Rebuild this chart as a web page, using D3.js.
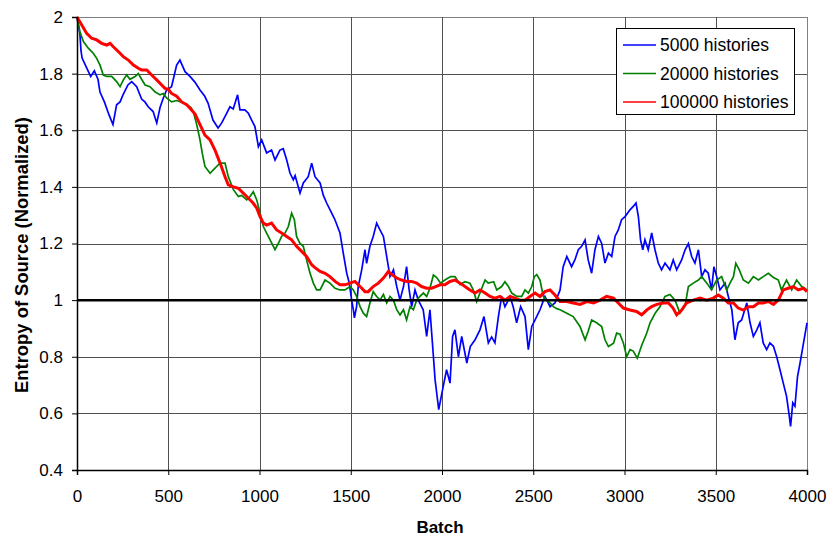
<!DOCTYPE html>
<html>
<head>
<meta charset="utf-8">
<script src="https://cdn.jsdelivr.net/npm/d3@7/dist/d3.min.js"></script>
<style>
  html, body { margin: 0; padding: 0; background: #fff; }
  svg { display: block; }
  text { font-family: "Liberation Sans", Arial, sans-serif; fill: #000; }
</style>
</head>
<body>
<svg id="chart" width="829" height="538"></svg>
<script>
// ---- data ----
const xTicks = [0, 500, 1000, 1500, 2000, 2500, 3000, 3500, 4000];
const yTicks = [0.4, 0.6, 0.8, 1.0, 1.2, 1.4, 1.6, 1.8, 2.0];
const seriesNames = ["5000 histories", "20000 histories", "100000 histories"];
const seriesColors = ["#0000ff", "#008000", "#ff0000"];
const referenceLevel = 1.0;

const batch5000 = [0,16,22,28,53,75,95,115,126,150,175,197,217,236,252,279,300,327,354,372,390,417,437,455,473,491,518,546,564,592,619,646,674,700,718,745,773,793,820,838,856,880,893,920,939,957,975,994,1012,1039,1066,1085,1112,1130,1149,1167,1185,1195,1222,1240,1267,1286,1304,1332,1350,1368,1405,1414,1441,1459,1478,1492,1505,1514,1520,1532,1541,1560,1578,1587,1605,1623,1642,1660,1679,1697,1715,1734,1752,1770,1789,1806,1820,1834,1852,1870,1886,1897,1916,1934,1953,1962,1971,1982,1990,2003,2025,2044,2058,2071,2090,2108,2136,2155,2181,2208,2230,2254,2272,2290,2309,2327,2345,2373,2390,2409,2431,2455,2473,2492,2510,2537,2564,2592,2619,2647,2664,2684,2710,2728,2747,2765,2784,2801,2820,2838,2857,2875,2893,2912,2930,2948,2966,2984,3003,3030,3048,3063,3076,3088,3100,3112,3130,3149,3167,3185,3203,3222,3249,3267,3286,3313,3332,3350,3368,3386,3405,3423,3441,3459,3477,3490,3505,3523,3551,3569,3588,3605,3623,3642,3670,3688,3706,3725,3742,3760,3779,3797,3816,3834,3852,3870,3888,3903,3910,3922,3934,3948,3962,3981,4000];
const value5000 = [2.0,1.94,1.88,1.855,1.82,1.79,1.81,1.78,1.735,1.70,1.655,1.62,1.69,1.70,1.725,1.76,1.772,1.754,1.71,1.70,1.683,1.666,1.626,1.68,1.714,1.742,1.754,1.83,1.848,1.807,1.79,1.77,1.742,1.72,1.696,1.636,1.608,1.626,1.66,1.683,1.675,1.725,1.672,1.672,1.66,1.636,1.613,1.542,1.566,1.52,1.53,1.495,1.53,1.535,1.495,1.449,1.425,1.44,1.378,1.414,1.436,1.484,1.436,1.414,1.37,1.343,1.295,1.283,1.237,1.166,1.095,1.06,1.0,0.966,0.937,0.977,1.048,1.107,1.178,1.13,1.19,1.225,1.272,1.248,1.225,1.154,1.083,1.107,1.048,1.0,1.048,1.118,1.036,0.977,1.036,1.0,0.98,0.966,0.872,0.966,0.80,0.719,0.672,0.613,0.64,0.683,0.754,0.707,0.872,0.895,0.80,0.872,0.778,0.836,0.86,0.895,0.942,0.849,0.87,0.849,0.942,1.013,0.977,1.013,0.977,0.92,0.977,0.942,0.825,0.907,0.93,0.966,1.013,0.977,0.99,1.036,1.118,1.154,1.118,1.142,1.178,1.19,1.213,1.142,1.095,1.178,1.225,1.2,1.131,1.166,1.154,1.225,1.248,1.284,1.295,1.319,1.331,1.343,1.295,1.213,1.178,1.213,1.178,1.237,1.178,1.131,1.107,1.131,1.107,1.142,1.107,1.142,1.178,1.2,1.154,1.131,1.178,1.083,1.107,1.095,1.036,1.118,1.083,1.036,1.06,1.013,0.966,0.86,0.92,0.93,0.99,0.92,0.872,0.895,0.92,0.849,0.825,0.849,0.837,0.80,0.754,0.707,0.66,0.59,0.554,0.637,0.625,0.73,0.778,0.849,0.92];

const batch20000 = [0,16,35,62,89,108,126,144,163,190,217,236,254,272,290,318,336,354,373,400,427,455,473,491,518,546,584,600,625,637,656,674,686,701,729,747,765,784,811,829,857,884,902,930,948,966,985,1003,1021,1039,1058,1085,1103,1121,1140,1158,1176,1191,1203,1222,1240,1258,1277,1295,1313,1332,1359,1386,1414,1441,1468,1496,1514,1532,1551,1569,1587,1605,1623,1642,1660,1679,1697,1715,1734,1752,1770,1789,1806,1825,1843,1861,1879,1898,1916,1934,1953,1971,1992,2016,2047,2071,2099,2126,2153,2171,2190,2208,2236,2253,2283,2300,2327,2345,2364,2382,2410,2437,2455,2473,2492,2506,2519,2537,2555,2575,2592,2610,2629,2647,2684,2719,2756,2784,2801,2820,2847,2875,2893,2912,2940,2957,2975,2994,3012,3030,3048,3070,3094,3122,3140,3168,3195,3222,3249,3277,3304,3332,3350,3377,3405,3423,3451,3477,3505,3532,3560,3578,3597,3610,3629,3651,3679,3706,3734,3760,3788,3816,3843,3860,3888,3916,3943,3971,4000];
const value20000 = [2.0,1.948,1.913,1.89,1.872,1.854,1.83,1.795,1.79,1.79,1.772,1.754,1.778,1.795,1.78,1.79,1.80,1.78,1.76,1.754,1.736,1.725,1.73,1.714,1.70,1.705,1.696,1.69,1.68,1.666,1.62,1.566,1.52,1.472,1.448,1.46,1.472,1.484,1.484,1.436,1.39,1.366,1.37,1.354,1.366,1.383,1.354,1.307,1.26,1.237,1.213,1.178,1.2,1.225,1.237,1.26,1.307,1.284,1.225,1.2,1.19,1.142,1.095,1.06,1.036,1.036,1.071,1.06,1.042,1.036,1.036,1.048,1.036,1.013,0.977,0.954,0.942,0.99,1.03,1.013,1.0,1.02,0.99,1.013,1.0,0.966,0.948,0.966,0.93,0.977,0.966,1.0,1.013,1.025,1.013,1.042,1.089,1.08,1.06,1.071,1.083,1.083,1.055,1.065,1.06,1.036,0.995,1.025,1.071,1.06,1.065,1.036,1.048,1.065,1.048,1.025,1.013,1.013,1.036,1.025,1.048,1.083,1.09,1.071,1.013,1.0,0.99,0.977,0.97,0.966,0.954,0.942,0.907,0.86,0.89,0.93,0.92,0.907,0.86,0.836,0.848,0.884,0.88,0.848,0.80,0.825,0.82,0.795,0.84,0.884,0.92,0.954,0.977,1.013,1.02,1.0,0.954,0.98,1.048,1.06,1.071,1.083,1.06,1.036,1.071,1.083,1.036,1.06,1.083,1.13,1.107,1.071,1.06,1.083,1.071,1.083,1.095,1.08,1.071,1.036,1.071,1.036,1.071,1.048,1.036];

const batch100000 = [0,26,53,80,108,135,163,181,199,226,254,281,309,336,354,382,409,437,464,482,500,518,546,574,601,619,647,674,701,729,756,784,811,829,857,884,911,939,966,985,1003,1021,1039,1066,1094,1121,1149,1176,1203,1231,1258,1286,1304,1332,1359,1386,1414,1441,1468,1496,1523,1551,1578,1596,1623,1651,1679,1706,1725,1752,1779,1806,1834,1861,1888,1916,1943,1966,1989,2016,2044,2071,2099,2126,2153,2181,2208,2236,2263,2290,2318,2345,2373,2400,2427,2455,2482,2510,2537,2564,2592,2619,2647,2684,2719,2756,2795,2831,2866,2902,2940,2966,2994,3030,3066,3094,3122,3149,3177,3213,3241,3266,3286,3313,3340,3377,3414,3451,3486,3514,3541,3569,3597,3623,3651,3679,3706,3734,3760,3788,3816,3843,3870,3897,3925,3952,3981,4000];
const value100000 = [2.0,1.972,1.942,1.925,1.919,1.907,1.901,1.907,1.895,1.878,1.86,1.848,1.83,1.819,1.813,1.813,1.795,1.778,1.76,1.748,1.745,1.73,1.72,1.70,1.69,1.678,1.657,1.62,1.583,1.566,1.53,1.484,1.436,1.407,1.40,1.395,1.378,1.36,1.342,1.325,1.295,1.272,1.265,1.272,1.248,1.237,1.225,1.213,1.19,1.172,1.154,1.125,1.115,1.101,1.095,1.083,1.066,1.054,1.054,1.06,1.066,1.048,1.03,1.03,1.048,1.06,1.078,1.101,1.09,1.078,1.071,1.066,1.066,1.06,1.048,1.042,1.042,1.048,1.054,1.054,1.066,1.071,1.06,1.048,1.036,1.025,1.036,1.025,1.013,1.007,1.013,1.0,1.013,1.007,1.0,1.0,1.013,1.025,1.013,1.03,1.036,1.018,0.995,0.995,0.99,0.985,0.995,0.99,1.0,1.013,1.007,0.99,0.972,0.965,0.96,0.948,0.965,0.977,0.985,0.99,0.99,0.972,0.948,0.965,0.99,1.0,1.007,1.0,1.007,1.018,1.007,0.99,0.99,0.972,0.965,0.977,0.977,0.99,0.99,0.995,0.985,1.0,1.036,1.042,1.048,1.036,1.042,1.03];

// ---- layout ----
const svg = d3.select("#chart");
const W = 829, H = 538;
const plotLeft = 77, plotRight = 807, plotTop = 17, plotBottom = 470;

const x = d3.scaleLinear().domain([0, 4000]).range([plotLeft, plotRight]);
const y = d3.scaleLinear().domain([0.4, 2.0]).range([plotBottom, plotTop]);

svg.append("rect").attr("width", W).attr("height", H).attr("fill", "#fff");

// gridlines
const grid = svg.append("g").attr("shape-rendering", "crispEdges");
grid.selectAll("line.h").data(yTicks.filter(d => d > 0.4))
  .join("line").attr("class", "h")
  .attr("x1", plotLeft).attr("x2", plotRight)
  .attr("y1", d => Math.round(y(d)) + 0.5).attr("y2", d => Math.round(y(d)) + 0.5)
  .attr("stroke", d => d === 2.0 ? "#808080" : "#505050").attr("stroke-width", 1);
grid.selectAll("line.v").data(xTicks.filter(d => d > 0))
  .join("line").attr("class", "v")
  .attr("y1", plotTop).attr("y2", plotBottom)
  .attr("x1", d => Math.round(x(d)) + 0.5).attr("x2", d => Math.round(x(d)) + 0.5)
  .attr("stroke", d => d === 4000 ? "#808080" : "#505050").attr("stroke-width", 1);

// series
const line = d3.line().x(d => x(d[0])).y(d => y(d[1]));
const series = [
  { b: batch5000, v: value5000, w: 1.7 },
  { b: batch20000, v: value20000, w: 1.7 },
  { b: batch100000, v: value100000, w: 3 }
];
series.forEach((s, i) => {
  const pts = s.b.map((b, k) => [b, s.v[k]]);
  svg.append("path").datum(pts)
    .attr("d", line)
    .attr("fill", "none")
    .attr("stroke", seriesColors[i])
    .attr("stroke-width", s.w)
    .attr("stroke-linejoin", "miter");
});

// reference line at 1.0
svg.append("line")
  .attr("x1", plotLeft).attr("x2", plotRight)
  .attr("y1", y(referenceLevel)).attr("y2", y(referenceLevel))
  .attr("stroke", "#000").attr("stroke-width", 2.5);

// axes
const fmt = d => String(+d.toFixed(1));
const yAxis = d3.axisLeft(y).tickValues(yTicks).tickFormat(fmt).tickSize(5).tickPadding(9);
const xAxis = d3.axisBottom(x).tickValues(xTicks).tickFormat(d => String(d)).tickSize(5).tickPadding(15);

const gy = svg.append("g").attr("transform", `translate(${plotLeft},0)`).call(yAxis);
const gx = svg.append("g").attr("transform", `translate(0,${plotBottom})`).call(xAxis);
[gx, gy].forEach(g => {
  g.select(".domain").attr("stroke", "#000").attr("stroke-width", 1.5);
  g.selectAll(".tick line").attr("stroke", "#000").attr("stroke-width", 1);
  g.selectAll("text").attr("font-size", 17).attr("font-family", "'Liberation Sans', Arial, sans-serif").attr("fill", "#000");
});

// axis titles
svg.append("text")
  .attr("x", 440).attr("y", 533)
  .attr("text-anchor", "middle")
  .attr("font-size", 17).attr("font-weight", "bold")
  .text("Batch");
svg.append("text")
  .attr("transform", "translate(28,255) rotate(-90)")
  .attr("text-anchor", "middle")
  .attr("font-size", 18.4).attr("font-weight", "bold")
  .text("Entropy of Source (Normalized)");

// legend
const lg = svg.append("g");
lg.append("rect")
  .attr("x", 616.5).attr("y", 28.5).attr("width", 178).attr("height", 86)
  .attr("fill", "#fff").attr("stroke", "#000").attr("stroke-width", 1);
seriesNames.forEach((name, i) => {
  const cy = 45 + i * 28.5;
  lg.append("line")
    .attr("x1", 623).attr("x2", 656)
    .attr("y1", cy).attr("y2", cy)
    .attr("stroke", seriesColors[i]).attr("stroke-width", 1.5);
  lg.append("text")
    .attr("x", 660).attr("y", cy + 6)
    .attr("font-size", 17.5)
    .text(name);
});
</script>
</body>
</html>
